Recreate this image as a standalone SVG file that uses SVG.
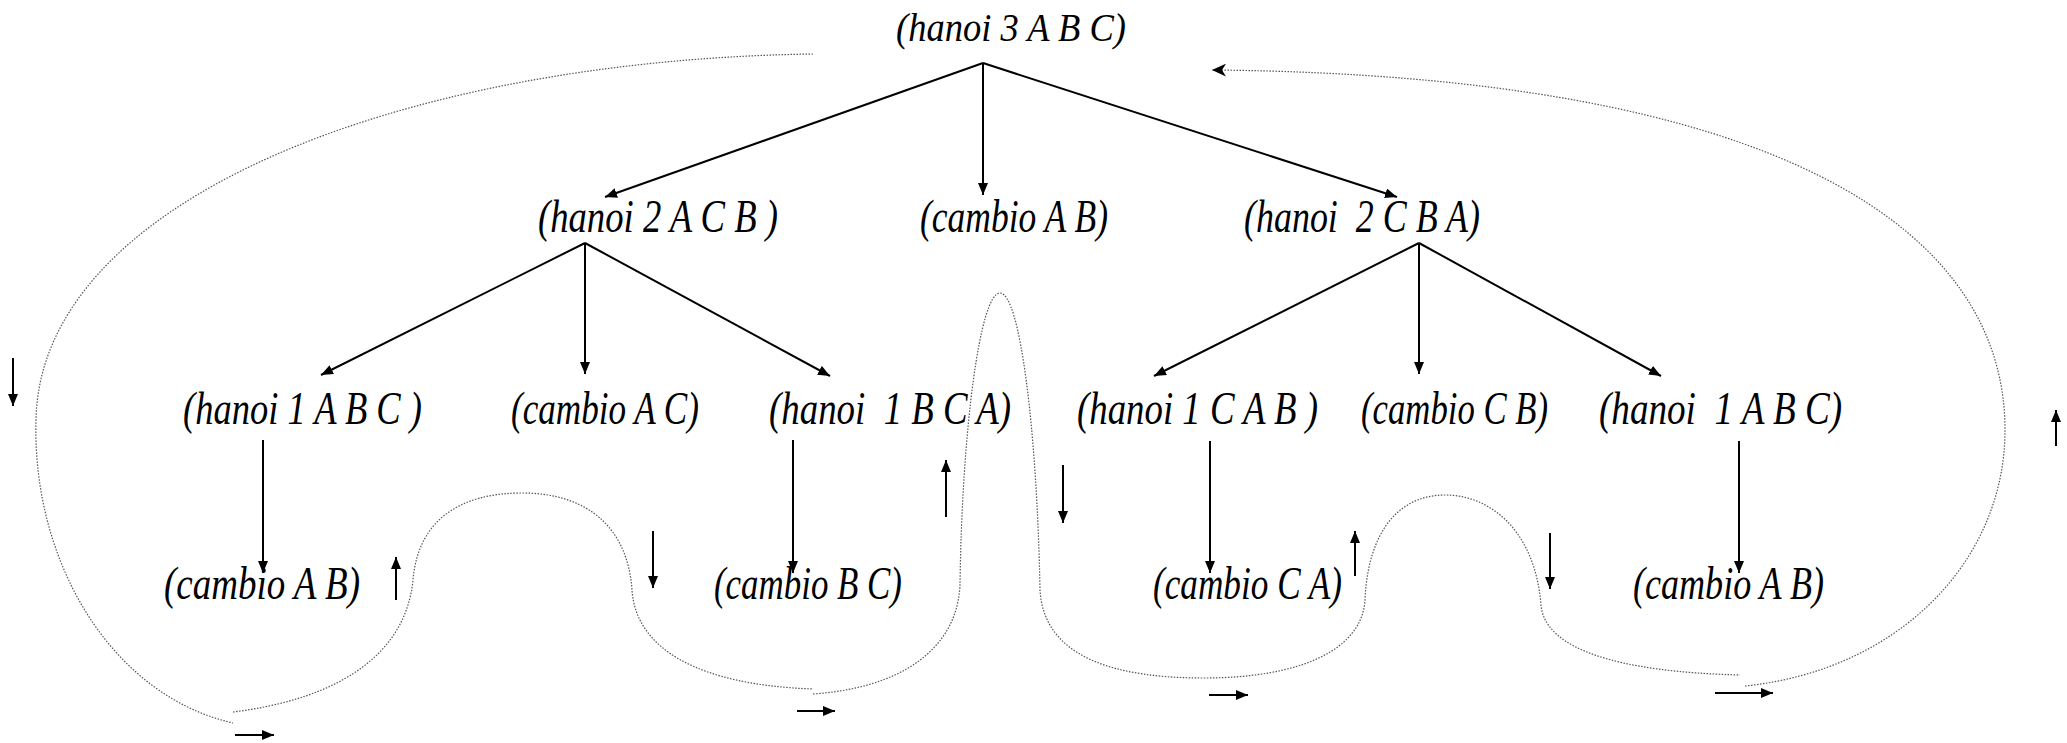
<svg xmlns="http://www.w3.org/2000/svg" width="2067" height="743" viewBox="0 0 2067 743">
<style>
  text { font-family: "Liberation Serif", "DejaVu Serif", serif; font-style: italic; fill: #000; white-space: pre; }
  .t0 { font-size: 39px; }
  .t { font-size: 47px; }
  .edge { stroke: #000; stroke-width: 2; fill: none; marker-end: url(#arr); }
  .small { stroke: #000; stroke-width: 2; fill: none; marker-end: url(#arr); }
  .dot { stroke: #555; stroke-width: 1.2; fill: none; stroke-dasharray: 1.5 1.5; }
</style>
<defs>
  <marker id="arr" markerUnits="userSpaceOnUse" markerWidth="12" markerHeight="10" refX="12" refY="5" orient="auto">
    <path d="M0,0 L12,5 L0,10 z" fill="#000"/>
  </marker>
  <marker id="arrL" markerUnits="userSpaceOnUse" markerWidth="14" markerHeight="13" refX="14" refY="6.5" orient="auto">
    <path d="M0,0 L14,6.5 L0,13 L4,6.5 z" fill="#000"/>
  </marker>
</defs>
<rect width="2067" height="743" fill="#fff"/>

<g id="connectors">
  <!-- tree edges -->
  <line class="edge" x1="983" y1="63" x2="605" y2="197"/>
  <line class="edge" x1="983" y1="63" x2="983" y2="195"/>
  <line class="edge" x1="983" y1="63" x2="1397" y2="197"/>
  <line class="edge" x1="585" y1="243" x2="321" y2="375"/>
  <line class="edge" x1="585" y1="243" x2="585" y2="374"/>
  <line class="edge" x1="585" y1="243" x2="830" y2="376"/>
  <line class="edge" x1="1419" y1="243" x2="1154" y2="376"/>
  <line class="edge" x1="1419" y1="243" x2="1419" y2="374"/>
  <line class="edge" x1="1419" y1="243" x2="1661" y2="376"/>
  <line class="edge" x1="263" y1="440" x2="263" y2="573"/>
  <line class="edge" x1="793" y1="440" x2="793" y2="573"/>
  <line class="edge" x1="1210" y1="441" x2="1210" y2="573"/>
  <line class="edge" x1="1739" y1="441" x2="1739" y2="573"/>

  <!-- dotted flow curves -->
  <path class="dot" d="M 813,54 C 400,60 40,200 36,420 C 32,560 110,695 233,723"/>
  <path class="dot" d="M 233,712 C 330,700 405,660 413,580 C 418,520 460,493 522,493 C 590,493 628,530 632,590 C 636,650 700,685 813,689"/>
  <path class="dot" d="M 813,694 C 900,688 957,650 960,585 C 962,430 980,293 1000,293 C 1020,293 1037,430 1040,590 C 1044,660 1120,678 1204,678 C 1300,678 1362,650 1365,600 C 1368,530 1400,495 1445,495 C 1490,495 1535,530 1541,605 C 1545,650 1620,672 1740,675"/>
  <path class="dot" d="M 1745,686 C 1900,670 2005,560 2005,430 C 2005,230 1780,75 1212,70" marker-end="url(#arrL)"/>

  <!-- small direction arrows -->
  <line class="small" x1="13" y1="358" x2="13" y2="406"/>
  <line class="small" x1="396" y1="600" x2="396" y2="557"/>
  <line class="small" x1="653" y1="531" x2="653" y2="588"/>
  <line class="small" x1="946" y1="517" x2="946" y2="460"/>
  <line class="small" x1="1063" y1="465" x2="1063" y2="523"/>
  <line class="small" x1="1355" y1="576" x2="1355" y2="531"/>
  <line class="small" x1="1550" y1="533" x2="1550" y2="589"/>
  <line class="small" x1="2056" y1="446" x2="2056" y2="410"/>
  <line class="small" x1="235" y1="735" x2="274" y2="735"/>
  <line class="small" x1="797" y1="711" x2="835" y2="711"/>
  <line class="small" x1="1209" y1="695" x2="1248" y2="695"/>
  <line class="small" x1="1715" y1="693" x2="1773" y2="693"/>
</g>

<g id="n-hanoi3"><text class="t0" x="896" y="41" textLength="230" lengthAdjust="spacingAndGlyphs">(hanoi 3 A B C)</text></g>

<g id="n-hanoi2-ACB"><text class="t" x="538" y="232" textLength="240" lengthAdjust="spacingAndGlyphs">(hanoi 2 A C B )</text></g>
<g id="n-cambio-AB-1"><text class="t" x="920" y="232" textLength="188" lengthAdjust="spacingAndGlyphs">(cambio A B)</text></g>
<g id="n-hanoi2-CBA"><text class="t" x="1244" y="232" textLength="236" lengthAdjust="spacingAndGlyphs">(hanoi  2 C B A)</text></g>

<g id="n-hanoi1-ABC-a"><text class="t" x="183" y="424" textLength="239" lengthAdjust="spacingAndGlyphs">(hanoi 1 A B C )</text></g>
<g id="n-cambio-AC"><text class="t" x="511" y="424" textLength="188" lengthAdjust="spacingAndGlyphs">(cambio A C)</text></g>
<g id="n-hanoi1-BCA"><text class="t" x="769" y="424" textLength="242" lengthAdjust="spacingAndGlyphs">(hanoi  1 B C A)</text></g>
<g id="n-hanoi1-CAB"><text class="t" x="1077" y="424" textLength="241" lengthAdjust="spacingAndGlyphs">(hanoi 1 C A B )</text></g>
<g id="n-cambio-CB"><text class="t" x="1361" y="424" textLength="187" lengthAdjust="spacingAndGlyphs">(cambio C B)</text></g>
<g id="n-hanoi1-ABC-b"><text class="t" x="1599" y="424" textLength="243" lengthAdjust="spacingAndGlyphs">(hanoi  1 A B C)</text></g>

<g id="n-cambio-AB-2"><text class="t" x="164" y="599" textLength="196" lengthAdjust="spacingAndGlyphs">(cambio A B)</text></g>
<g id="n-cambio-BC"><text class="t" x="714" y="599" textLength="188" lengthAdjust="spacingAndGlyphs">(cambio B C)</text></g>
<g id="n-cambio-CA"><text class="t" x="1153" y="599" textLength="189" lengthAdjust="spacingAndGlyphs">(cambio C A)</text></g>
<g id="n-cambio-AB-3"><text class="t" x="1633" y="599" textLength="191" lengthAdjust="spacingAndGlyphs">(cambio A B)</text></g>
</svg>
